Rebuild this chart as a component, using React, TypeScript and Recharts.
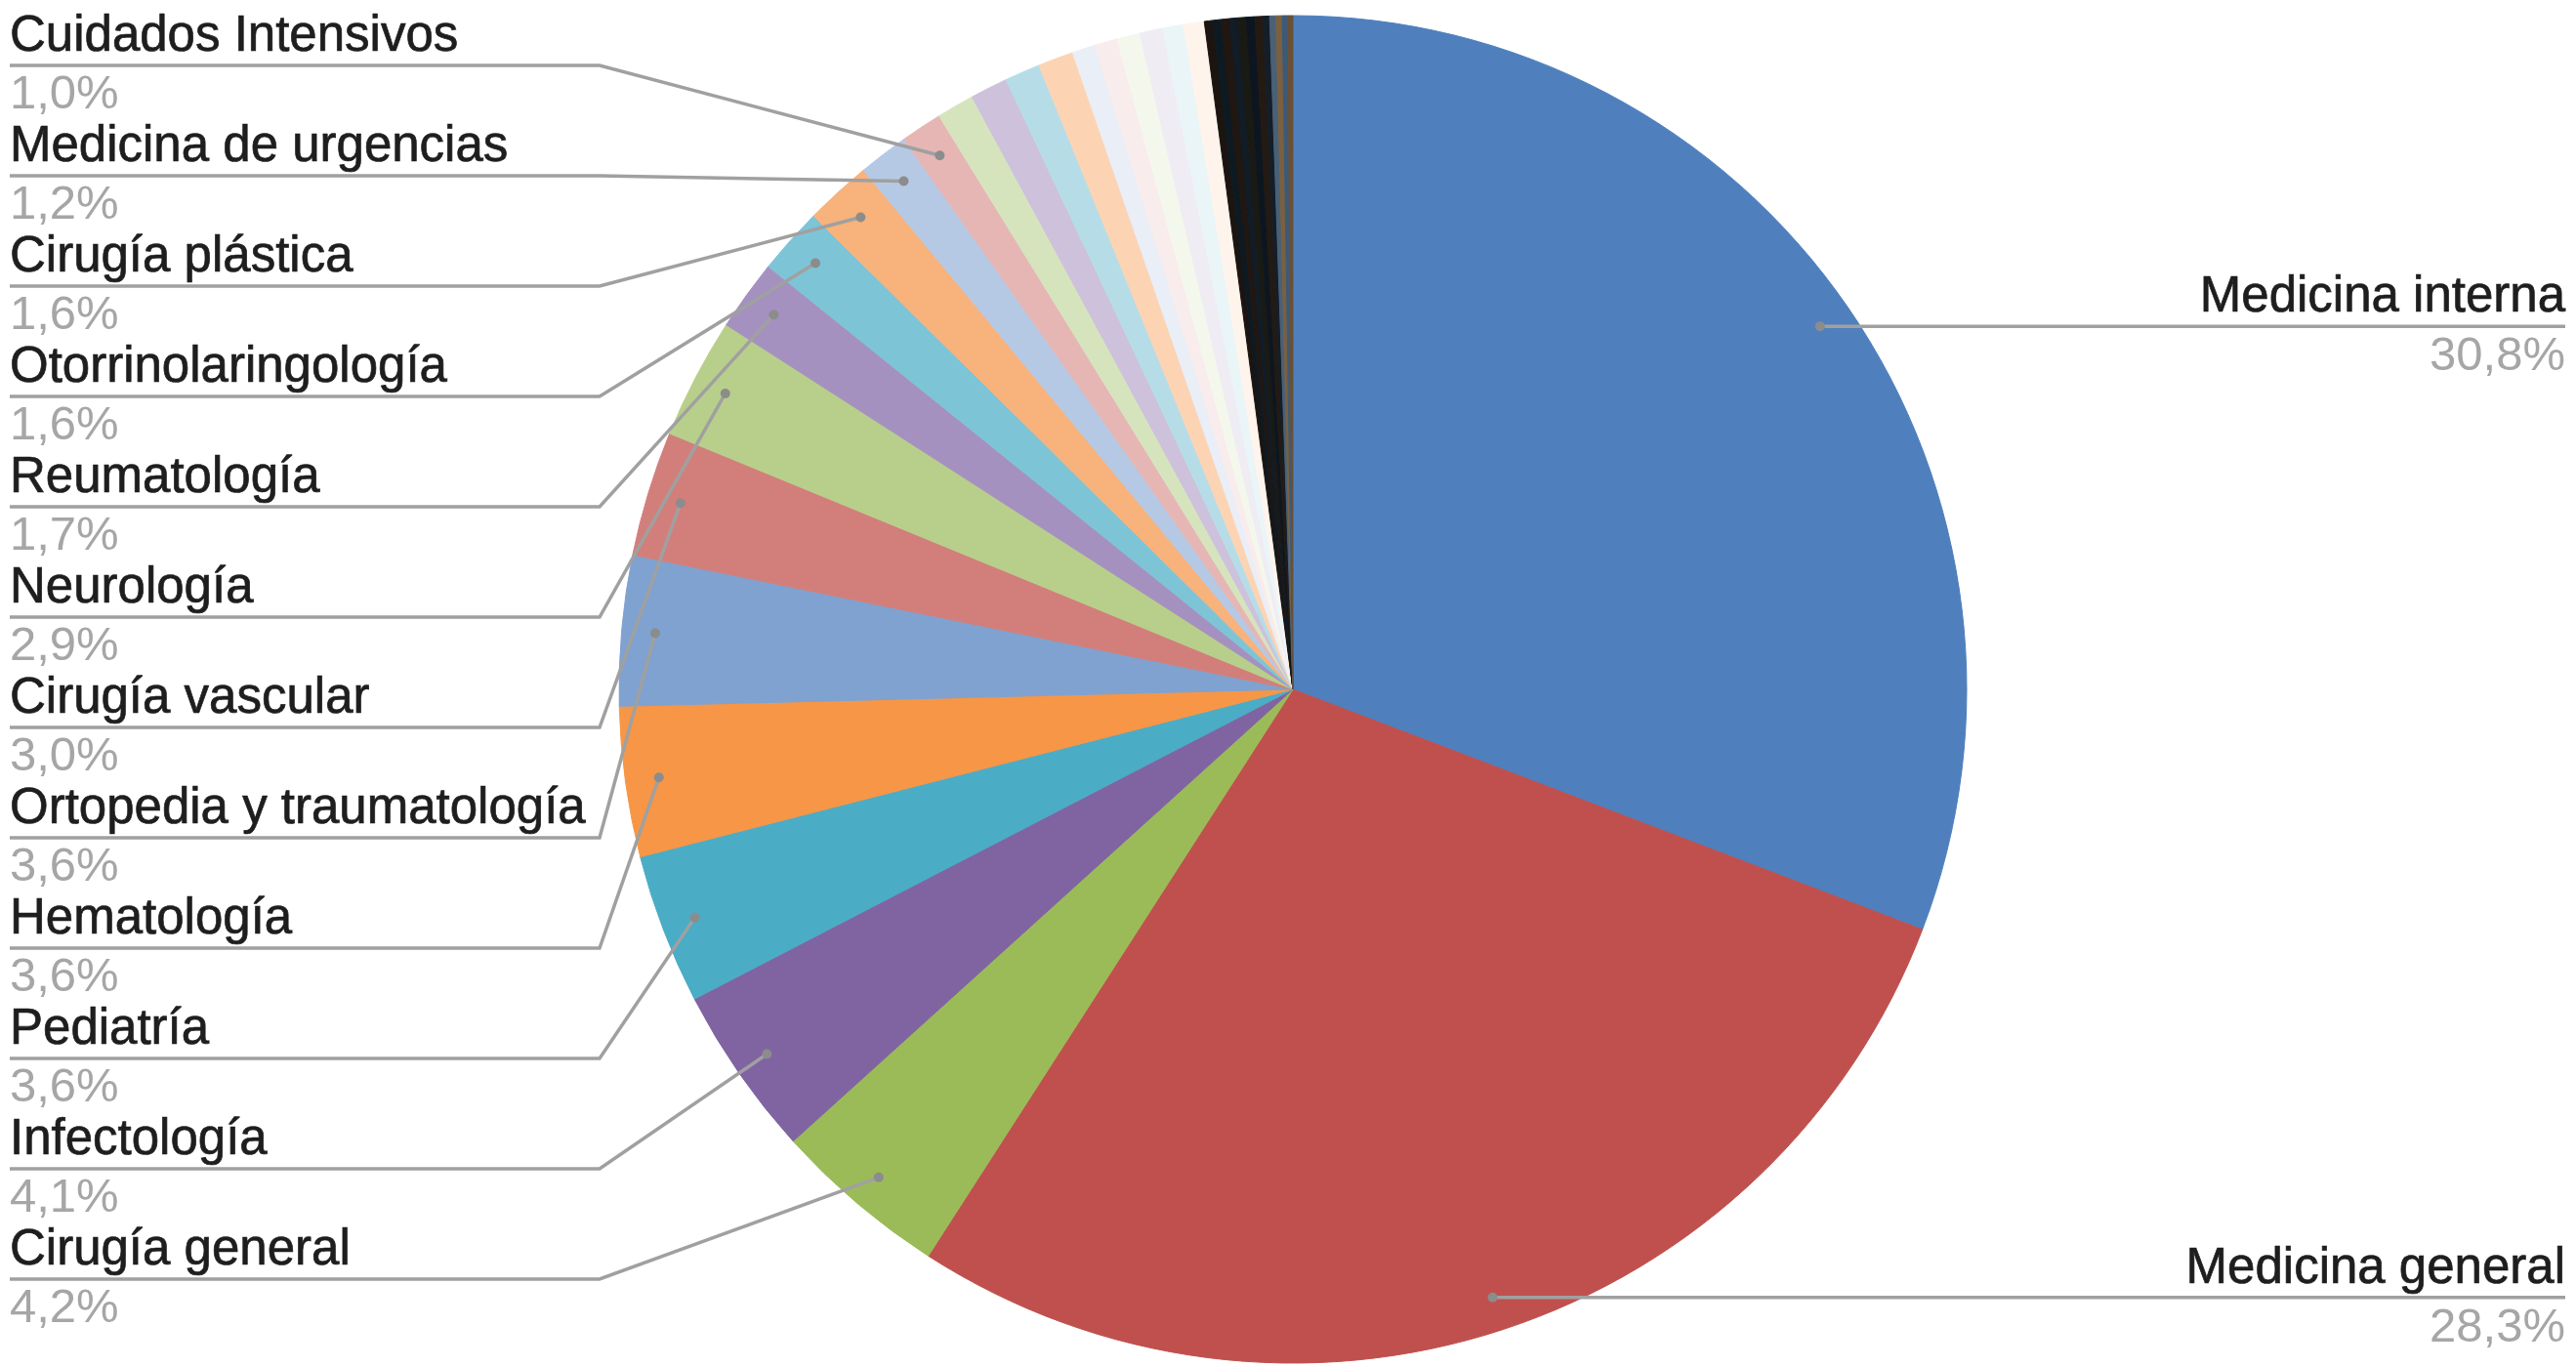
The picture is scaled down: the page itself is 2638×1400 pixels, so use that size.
import { Cell, Pie, PieChart } from "recharts";

// specialties, clockwise from 12 o'clock
const categories = [
  "Medicina interna",
  "Medicina general",
  "Cirugía general",
  "Infectología",
  "Pediatría",
  "Hematología",
  "Ortopedia y traumatología",
  "Cirugía vascular",
  "Neurología",
  "Reumatología",
  "Otorrinolaringología",
  "Cirugía plástica",
  "Medicina de urgencias",
  "Cuidados Intensivos",
  "Otra 1", "Otra 2", "Otra 3", "Otra 4",
  "Otra 5", "Otra 6", "Otra 7", "Otra 8", "Otra 9", "Otra 10",
  "Otra 11", "Otra 12", "Otra 13", "Otra 14", "Otra 15", "Otra 16", "Otra 17", "Otra 18",
  "Otra 19", "Otra 20", "Otra 21", "Otra 22",
];

const shares = [
  30.8, 28.3, 4.2, 4.1, 3.6, 3.6, 3.6, 3.0, 2.9, 1.7, 1.6, 1.6, 1.2, 1.0,
  0.9, 0.9, 0.85, 0.85,
  0.55, 0.55, 0.55, 0.55, 0.5, 0.5,
  0.2, 0.2, 0.2, 0.2, 0.2, 0.2, 0.2, 0.15,
  0.15, 0.15, 0.13, 0.12,
];

const colors = [
  "#4f80bd", "#c0504d", "#9bbb59", "#8064a2", "#4bacc6", "#f79646",
  "#7fa2d0", "#d27f7c", "#b8cf8b", "#a591c0", "#7ec4d7", "#f8b27b",
  "#b5c9e5", "#e6b6b5", "#d6e4be", "#cdc1dc", "#b6dde7", "#fcd4b4",
  "#e9eef7", "#f8ecec", "#f4f8ec", "#efecf4", "#eaf5f8", "#fef4ec",
  "#1b1410", "#0e1a22", "#201612", "#111c26", "#1a1a14", "#0d1620", "#231a14", "#141e28",
  "#4a6076", "#7a6040", "#3c5a78", "#6a5034",
];

// label rows on the left, top to bottom
const leftLabels = [
  "Cuidados Intensivos",
  "Medicina de urgencias",
  "Cirugía plástica",
  "Otorrinolaringología",
  "Reumatología",
  "Neurología",
  "Cirugía vascular",
  "Ortopedia y traumatología",
  "Hematología",
  "Pediatría",
  "Infectología",
  "Cirugía general",
];
const rightLabels = ["Medicina interna", "Medicina general"];

const data = categories.map((name, i) => ({ name, value: shares[i] }));

const RAD = Math.PI / 180;
const FONT = "'Liberation Sans', Arial, Helvetica, sans-serif";
const fmt = (v: number) => `${v.toFixed(1).replace(".", ",")}%`;

function renderLabel(props: any) {
  const { cx, cy, midAngle, outerRadius, index } = props;
  const name = categories[index];
  const li = leftLabels.indexOf(name);
  const ri = rightLabels.indexOf(name);
  if (li < 0 && ri < 0) return null;

  const r = outerRadius * 0.95;
  const px = cx + r * Math.cos(-midAngle * RAD);
  const py = cy + r * Math.sin(-midAngle * RAD);

  if (ri >= 0) {
    const xEnd = 2627;
    return (
      <g key={`lbl-${index}`}>
        <line x1={px} y1={py} x2={xEnd} y2={py} stroke="#a0a0a0" strokeWidth={3.5} />
        <circle cx={px} cy={py} r={5} fill="#8c8c8c" />
        <text x={xEnd} y={py - 15} textAnchor="end" fontSize={51} fill="#1e1e1e" stroke="#1e1e1e" strokeWidth={0.7} fontFamily={FONT}>
          {name}
        </text>
        <text x={xEnd} y={py + 45} textAnchor="end" fontSize={49} fill="#a6a6a6" fontFamily={FONT}>
          {fmt(shares[index])}
        </text>
      </g>
    );
  }

  const ly = 67 + 113 * li;
  return (
    <g key={`lbl-${index}`}>
      <polyline
        points={`10,${ly} 614,${ly} ${px},${py}`}
        fill="none"
        stroke="#a0a0a0"
        strokeWidth={3.5}
      />
      <circle cx={px} cy={py} r={5} fill="#8c8c8c" />
      <text x={10} y={ly - 15} fontSize={51} fill="#1e1e1e" stroke="#1e1e1e" strokeWidth={0.7} fontFamily={FONT}>
        {name}
      </text>
      <text x={10} y={ly + 44} fontSize={49} fill="#a6a6a6" fontFamily={FONT}>
        {fmt(shares[index])}
      </text>
    </g>
  );
}

export default function App() {
  return (
    <div style={{ position: "absolute", left: 0, top: 0, width: 2638, height: 1400, background: "#fff" }}>
      <PieChart width={2638} height={1400}>
        <Pie
          data={data}
          dataKey="value"
          nameKey="name"
          cx={1319}
          cy={701}
          outerRadius={690}
          startAngle={90}
          endAngle={-270}
          label={renderLabel}
          labelLine={false}
          isAnimationActive={false}
        >
          {data.map((d, i) => (
            <Cell key={d.name} fill={colors[i]} stroke={colors[i]} strokeWidth={1} />
          ))}
        </Pie>
      </PieChart>
    </div>
  );
}
